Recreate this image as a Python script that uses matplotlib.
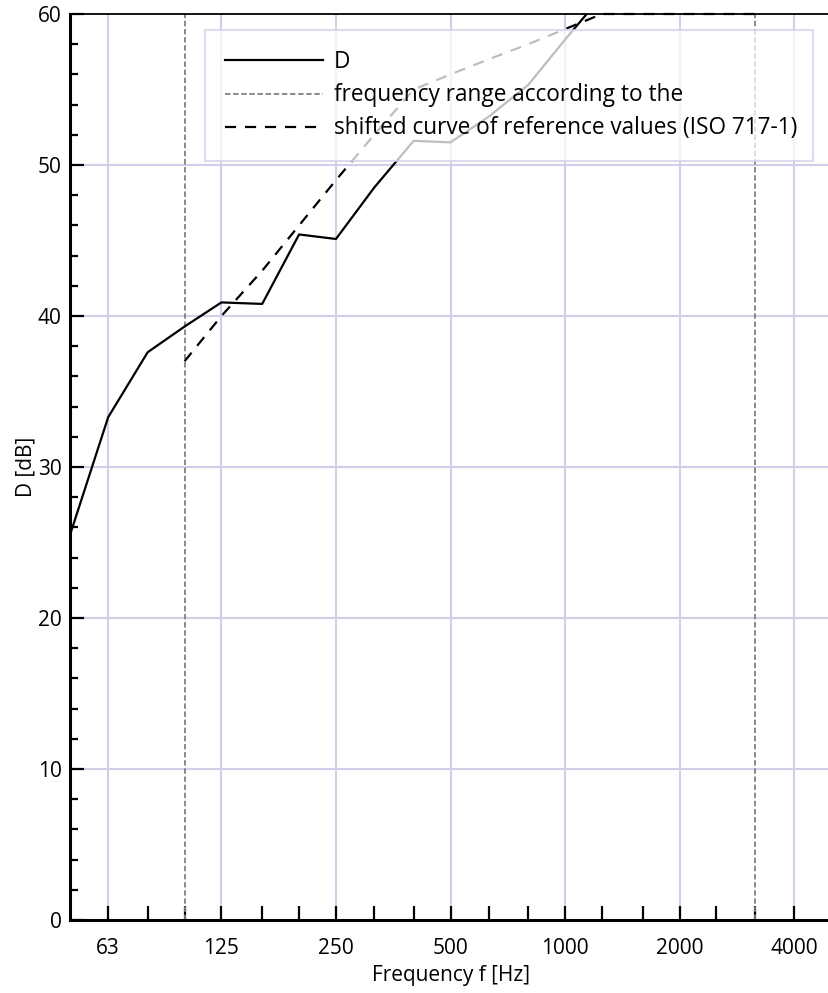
import matplotlib
matplotlib.use("Agg")
import matplotlib.pyplot as plt
from matplotlib.ticker import FixedLocator, NullFormatter, FixedFormatter

plt.rcParams['font.family'] = ['Open Sans', 'DejaVu Sans']

# Measured curve D (third-octave bands)
freq_D = [50, 63, 80, 100, 125, 160, 200, 250, 315, 400, 500, 630, 800, 1000, 1250]
D = [25.5, 33.3, 37.6, 39.3, 40.9, 40.8, 45.4, 45.1, 48.5, 51.6, 51.5, 53.2, 55.3, 58.3, 61.2]

# Shifted reference curve (ISO 717-1 + 4 dB)
freq_ref = [100, 125, 160, 200, 250, 315, 400, 500, 630, 800, 1000, 1250, 1600, 2000, 2500, 3150]
ref_shifted = [37, 40, 43, 46, 49, 52, 55, 56, 57, 58, 59, 60, 60, 60, 60, 60]

# Frequency range limits
range_limits = [100, 3150]

major_ticks = [63, 125, 250, 500, 1000, 2000, 4000]
major_labels = ["63", "125", "250", "500", "1000", "2000", "4000"]
minor_ticks = [80, 100, 160, 200, 315, 400, 630, 800, 1250, 1600, 2500, 3150]

fig = plt.figure(figsize=(8.29, 9.93), dpi=100)
ax = fig.add_axes([70/829, 1-920/993, 761/829, 906/993])

grid_c = '#cfcfe8'
ax.set_xscale('log')
ax.set_xlim(50, 5000)
ax.set_ylim(0, 60)

for v in major_ticks:
    ax.axvline(v, color=grid_c, lw=1.5, zorder=0)
for v in [10, 20, 30, 40, 50]:
    ax.axhline(v, color=grid_c, lw=1.5, zorder=0)

lD, = ax.plot(freq_D, D, color='black', lw=1.6, label='D', zorder=3)
lR = None
for i, f in enumerate(range_limits):
    l = ax.axvline(f, color='#808080', lw=1.3, ls=(0, (3, 1.5)), zorder=2,
                   label='frequency range according to the' if i == 0 else None)
    if i == 0:
        lR = l
lS, = ax.plot(freq_ref, ref_shifted, color='black', lw=1.6, ls=(0, (5, 4)),
              label='shifted curve of reference values (ISO 717-1)', zorder=4, clip_on=False)

ax.xaxis.set_major_locator(FixedLocator(major_ticks))
ax.xaxis.set_major_formatter(FixedFormatter(major_labels))
ax.xaxis.set_minor_locator(FixedLocator(minor_ticks))
ax.xaxis.set_minor_formatter(NullFormatter())
ax.set_yticks([0, 10, 20, 30, 40, 50, 60])
ax.yaxis.set_minor_locator(FixedLocator([v for v in range(0, 61, 2) if v % 10]))

ax.tick_params(axis='x', which='both', direction='in', length=10, width=1.6,
               labelsize=15, pad=13)
ax.tick_params(axis='y', which='major', direction='in', length=10, width=1.6,
               labelsize=15, pad=6)
ax.tick_params(axis='y', which='minor', direction='in', length=6, width=1.6)

for s in ['left', 'bottom']:
    ax.spines[s].set_linewidth(2.2)
ax.spines['top'].set_linewidth(1.3)
ax.spines['right'].set_visible(False)

ax.set_xlabel('Frequency f [Hz]', fontsize=15, labelpad=4)
ax.set_ylabel('D [dB]', fontsize=15, labelpad=1)

top = 1 - 16/906
h = 0.3
leg = ax.legend(handles=[lD, lR, lS], loc='upper left',
                bbox_to_anchor=(135/761, top - h, 608/761, h), mode='expand',
                borderaxespad=0, fontsize=16.3, handlelength=4.3, handletextpad=0.5,
                frameon=True, fancybox=False, framealpha=0.75, edgecolor=grid_c,
                labelspacing=0.4, borderpad=0.9)
leg.get_frame().set_linewidth(1.5)
leg.set_zorder(5)

fig.savefig('out.png', dpi=100)
